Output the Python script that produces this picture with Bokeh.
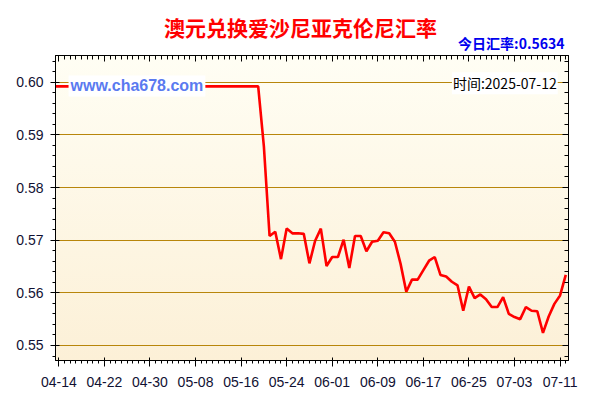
import numpy as np
import pandas as pd
from bokeh.plotting import figure
from bokeh.layouts import column
from bokeh.models import (ColumnDataSource, Range1d, FixedTicker, LinearAxis, DatetimeAxis,
                          DatetimeTickFormatter, NumeralTickFormatter, Label,
                          CustomLabelingPolicy)
from bokeh.embed import file_html
from bokeh.resources import INLINE

# ---------------- data ----------------
title_text = "澳元兑换爱沙尼亚克伦尼汇率"
today_text = "今日汇率:0.5634"
time_text = "时间:2025-07-12"
site_text = "www.cha678.com"

first_day = "2025-04-13"
last_day = "2025-07-12"

rates = [
    # 04-13 .. 04-30
    0.5992, 0.5992, 0.5992, 0.5992, 0.5992, 0.5992, 0.5992, 0.5992, 0.5992,
    0.5992, 0.5992, 0.5992, 0.5992, 0.5992, 0.5992, 0.5992, 0.5992, 0.5992,
    # 05-01 .. 05-18
    0.5992, 0.5992, 0.5992, 0.5992, 0.5992, 0.5992, 0.5992, 0.5992, 0.5992,
    0.5992, 0.5992, 0.5992, 0.5992, 0.5992, 0.5992, 0.5992, 0.5992, 0.5992,
    # 05-19 .. 05-31
    0.5992, 0.5878, 0.5708, 0.5716, 0.5664, 0.5722, 0.5713, 0.5713, 0.5712,
    0.5656, 0.5699, 0.5722, 0.5651,
    # 06-01 .. 06-30
    0.5668, 0.5668, 0.5701, 0.5647, 0.5708, 0.5708, 0.5679, 0.5697, 0.5699,
    0.5715, 0.5713, 0.5697, 0.5655, 0.5602, 0.5625, 0.5625, 0.5643, 0.5661,
    0.5668, 0.5634, 0.5631, 0.5621, 0.5614, 0.5566, 0.5612, 0.5590, 0.5597,
    0.5588, 0.5573, 0.5573,
    # 07-01 .. 07-12
    0.5592, 0.5560, 0.5554, 0.5550, 0.5573, 0.5566, 0.5565, 0.5524, 0.5555,
    0.5579, 0.5595, 0.5634,
]

tick_dates = ["2025-04-14", "2025-04-22", "2025-04-30", "2025-05-08", "2025-05-16",
              "2025-05-24", "2025-06-01", "2025-06-09", "2025-06-17", "2025-06-25",
              "2025-07-03", "2025-07-11"]
y_ticks = [0.55, 0.56, 0.57, 0.58, 0.59, 0.60]

# ---------------- header (title + today's rate) ----------------
W = 584
HEAD_H = 55
FRAME_L, FRAME_R = 55, 568   # the column aligns the header's frame with the chart's frame
head = figure(width=W, height=HEAD_H, x_range=Range1d(FRAME_L, FRAME_R), y_range=Range1d(HEAD_H, 0),
              output_backend="svg", toolbar_location=None,
              x_axis_location=None, y_axis_location=None,
              min_border=0, outline_line_color=None,
              background_fill_color="white", border_fill_color="white")
head.xgrid.visible = False
head.ygrid.visible = False
head.add_layout(Label(x=300, y=26, text=title_text,
                      text_font="Noto Sans CJK SC", text_font_size="21px",
                      text_font_style="bold", text_color="#ff0000",
                      text_baseline="middle", text_align="center"))
head.add_layout(Label(x=564, y=42.5, text=today_text,
                      text_font="Noto Sans CJK SC", text_font_size="14px",
                      text_font_style="bold", text_color="#0000ee",
                      text_baseline="middle", text_align="right"))

# ---------------- main chart ----------------
dates = pd.date_range(first_day, last_day, freq="D")
source = ColumnDataSource(data=dict(date=dates, rate=rates))

def ms(d):
    return pd.Timestamp(d).value / 1e6

x_major = [ms(d) for d in tick_dates]
x_minor = [ms(d) for d in dates]
y_minor = [round(v, 3) for v in np.arange(0.546, 0.6061, 0.002)]

x_range = Range1d(start=ms("2025-04-13 10:00"), end=ms("2025-07-12 11:30"))
y_range = Range1d(start=0.54715, end=0.60507)

p = figure(width=W, height=392 - HEAD_H, x_axis_type="datetime",
           x_range=x_range, y_range=y_range,
           output_backend="svg", toolbar_location=None,
           min_border_left=FRAME_L, min_border_right=W - FRAME_R,
           min_border_bottom=32, min_border_top=0,
           background_fill_alpha=0, border_fill_alpha=0,
           outline_line_color="black")
p.styles = {
    "background": "linear-gradient(to bottom, #fffef4, #fcf0d7) 55px 0px / 513px 305px no-repeat, #ffffff",
}

x_ticker = FixedTicker(ticks=x_major, minor_ticks=x_minor)
y_ticker = FixedTicker(ticks=y_ticks, minor_ticks=y_minor)
fmt = DatetimeTickFormatter(days="%m-%d", months="%m-%d", hours="%m-%d",
                            years="%m-%d", minutes="%m-%d")

label_color = "#111133"

xa = p.xaxis[0]
xa.ticker = x_ticker
xa.formatter = fmt
xa.major_tick_out = 6
xa.major_tick_in = 3
xa.minor_tick_out = 3
xa.minor_tick_in = 0
xa.major_label_standoff = 10
xa.major_label_text_font = "Liberation Sans"
xa.major_label_text_font_size = "14px"
xa.major_label_text_color = label_color
xa.axis_line_color = "black"

ya = p.yaxis[0]
ya.ticker = y_ticker
ya.formatter = NumeralTickFormatter(format="0.00")
ya.major_tick_out = 5
ya.major_tick_in = 4
ya.minor_tick_out = 3
ya.minor_tick_in = 0
ya.major_label_standoff = 7
ya.major_label_text_font = "Liberation Sans"
ya.major_label_text_font_size = "14px"
ya.major_label_text_color = label_color

no_labels = CustomLabelingPolicy(code="for (const i of indices) { indices.unset(i) } return indices")

top_axis = DatetimeAxis(ticker=x_ticker, formatter=fmt,
                        major_tick_out=0, major_tick_in=6,
                        minor_tick_out=0, minor_tick_in=4,
                        major_label_text_font_size="0px", major_label_standoff=0,
                        major_label_policy=no_labels)
right_axis = LinearAxis(ticker=y_ticker,
                        major_tick_out=0, major_tick_in=6,
                        minor_tick_out=0, minor_tick_in=4,
                        major_label_text_font_size="0px", major_label_standoff=0,
                        major_label_policy=no_labels)
p.add_layout(top_axis, "above")
p.add_layout(right_axis, "right")

p.xgrid.visible = False
p.ygrid.grid_line_color = "#b8860b"
p.ygrid.grid_line_width = 1

p.line(x="date", y="rate", source=source, line_color="#ff0000", line_width=2.6)

site = Label(x=ms("2025-04-15 17:00"), y=0.5993, text=site_text,
             text_font="Liberation Sans", text_font_size="16px", text_font_style="bold",
             text_color="#5a7af0", text_baseline="middle", text_align="left",
             background_fill_color="white", padding=2)
stamp = Label(x=ms("2025-07-10 14:00"), y=0.5998, text=time_text,
              text_font="Noto Sans CJK SC", text_font_size="14px",
              text_color="#000000", text_baseline="middle", text_align="right",
              background_fill_color="white", padding=1)
p.add_layout(site)
p.add_layout(stamp)

layout = column(head, p, spacing=0)
open("out.html", "w").write(file_html(layout, INLINE))
